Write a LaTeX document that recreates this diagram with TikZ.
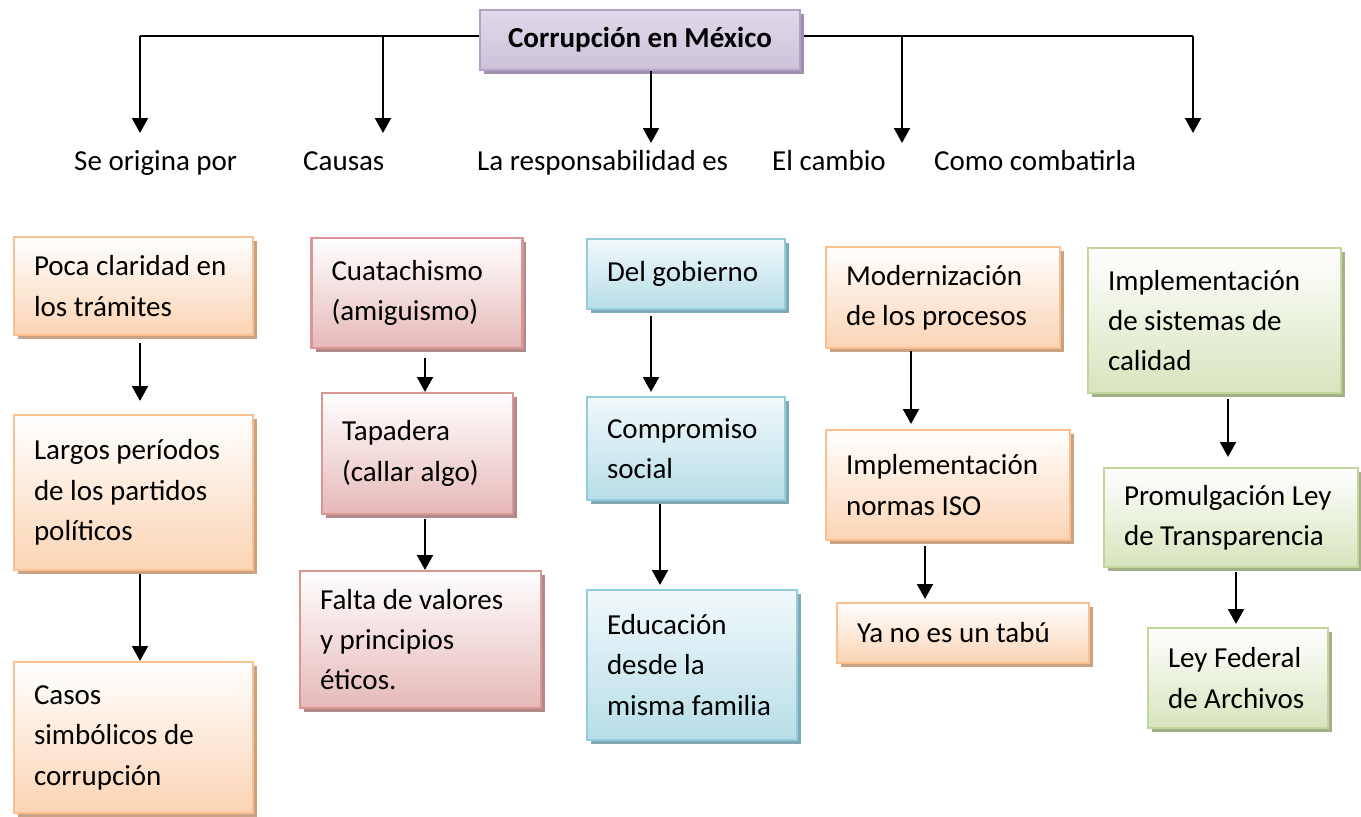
\documentclass[tikz,border=0pt]{standalone}
\usepackage{fontspec}
\setmainfont{Carlito}
\usetikzlibrary{positioning}
\usetikzlibrary{calc}
\usetikzlibrary{arrows.meta}
\usetikzlibrary{shadows}

\definecolor{naranja}{HTML}{FBD4B4}
\definecolor{naranjaborde}{HTML}{FAC090}
\definecolor{naranjasombra}{HTML}{C9A283}
\definecolor{rojo}{HTML}{E6B9B8}
\definecolor{rojoborde}{HTML}{D99694}
\definecolor{rojosombra}{HTML}{B08A8A}
\definecolor{azul}{HTML}{B7DEE8}
\definecolor{azulborde}{HTML}{93CDDD}
\definecolor{azulsombra}{HTML}{7FA9B5}
\definecolor{verde}{HTML}{D7E4BD}
\definecolor{verdeborde}{HTML}{C3D69B}
\definecolor{verdesombra}{HTML}{A3B08A}
\definecolor{morado}{HTML}{CCC1DA}
\definecolor{moradoborde}{HTML}{B3A2C7}
\definecolor{moradosombra}{HTML}{9D8FAD}

\begin{document}
\begin{tikzpicture}[x=0.02cm, y=-0.02cm,
        every node/.style={font=\fontsize{16.5}{23}\selectfont},
        caja/.style 2 args={draw, line width=1.2pt, align=flush left, text width=#1,
            minimum height=#2, inner xsep=0.4cm, inner ysep=0pt},
        naranjo/.style={draw=naranjaborde, top color=white, bottom color=naranja,
            drop shadow={shadow xshift=0.08cm, shadow yshift=-0.08cm, fill=naranjasombra, opacity=1}},
        rojizo/.style={draw=rojoborde, top color=white, bottom color=rojo,
            drop shadow={shadow xshift=0.08cm, shadow yshift=-0.08cm, fill=rojosombra, opacity=1}},
        azulado/.style={draw=azulborde, top color=white!80!azul, bottom color=azul,
            drop shadow={shadow xshift=0.08cm, shadow yshift=-0.08cm, fill=azulsombra, opacity=1}},
        verdoso/.style={draw=verdeborde, top color=white, bottom color=verde,
            drop shadow={shadow xshift=0.08cm, shadow yshift=-0.08cm, fill=verdesombra, opacity=1}},
        linea/.style={line width=1.4pt},
        flecha/.style={line width=1.4pt, -{Triangle[width=9pt, length=8.5pt]}}]

        \useasboundingbox (0,0) rectangle (1361,816);

        % titulo y ramas
        \coordinate (izq) at (140,36);
        \coordinate (der) at (1193,36);
        \coordinate (c2) at (383,36);
        \coordinate (c4) at (902,36);
        \coordinate (f1) at (140,133);
        \coordinate (f2) at (383,133);
        \coordinate (f3) at (651,143);
        \coordinate (f4) at (902,143);
        \coordinate (f5) at (1193,133);

        \draw[linea] (izq) -- (der);
        \node[draw=moradoborde, line width=1.2pt, top color=morado!60, bottom color=morado,
            drop shadow={shadow xshift=0.08cm, shadow yshift=-0.08cm, fill=moradosombra, opacity=1},
            minimum width=6.4cm, minimum height=1.2cm] (titulo) at (640,40) {\bfseries Corrupción en México};

        \draw[flecha] (izq) -- (f1);
        \draw[flecha] (c2) -- (f2);
        \draw[flecha] (titulo.south -| f3) -- (f3);
        \draw[flecha] (c4) -- (f4);
        \draw[flecha] (der) -- (f5);

        \node[anchor=base west] (l1) at (68,170) {Se origina por};
        \node[anchor=base west] (l2) at (297,170) {Causas};
        \node[anchor=base west] (l3) at (471,170) {La responsabilidad es};
        \node[anchor=base west] (l4) at (766,170) {El cambio};
        \node[anchor=base west] (l5) at (928,170) {Como combatirla};

        % columna 1
        \node[caja={3.98cm}{1.96cm}, naranjo] (b11) at (133.5,286) {Poca claridad en\\los trámites};
        \node[caja={3.98cm}{3.1cm}, naranjo] (b12) at (133.5,492.5) {Largos períodos\\de los partidos\\políticos};
        \node[caja={3.98cm}{3.02cm}, naranjo] (b13) at (133.5,737.5) {Casos\\simbólicos de\\corrupción};

        % columna 2
        \node[caja={3.42cm}{2.2cm}, rojizo] (b21) at (417,293) {Cuatachismo\\(amiguismo)};
        \node[caja={3.02cm}{2.42cm}, rojizo] (b22) at (417.5,453.5) {Tapadera\\(callar algo)};
        \node[caja={4.02cm}{2.74cm}, rojizo] (b23) at (420.5,639.5) {Falta de valores\\y principios\\éticos.};

        % columna 3
        \node[caja={3.16cm}{1.4cm}, azulado] (b31) at (686,274) {Del gobierno};
        \node[caja={3.16cm}{2.06cm}, azulado] (b32) at (686,448.5) {Compromiso\\social};
        \node[caja={3.4cm}{3.0cm}, azulado] (b33) at (692,665) {Educación\\desde la\\misma familia};

        % columna 4
        \node[caja={3.88cm}{2.02cm}, naranjo] (b41) at (943,297.5) {Modernización\\de los procesos};
        \node[caja={4.08cm}{2.2cm}, naranjo] (b42) at (948,485) {Implementación\\normas ISO};
        \node[caja={4.24cm}{1.2cm}, naranjo] (b43) at (963,633) {Ya no es un tabú};

        % columna 5
        \node[caja={4.26cm}{2.9cm}, verdoso] (b51) at (1214.5,320.5) {Implementación\\de sistemas de\\calidad};
        \node[caja={4.28cm}{1.98cm}, verdoso] (b52) at (1231,517.5) {Promulgación Ley\\de Transparencia};
        \node[caja={2.8cm}{2.0cm}, verdoso] (b53) at (1238,678) {Ley Federal\\de Archivos};

        % flechas entre cajas
        \draw[flecha, shorten <=0.14cm, shorten >=0.26cm] (b11.south -| 140,0) -- (b12.north -| 140,0);
        \draw[flecha, shorten <=0.06cm] (b12.south -| 140,0) -- (b13.north -| 140,0);
        \draw[flecha, shorten <=0.18cm] (b21.south -| 425,0) -- (b22.north -| 425,0);
        \draw[flecha, shorten <=0.08cm] (b22.south -| 425,0) -- (b23.north -| 425,0);
        \draw[flecha, shorten <=0.12cm, shorten >=0.08cm] (b31.south -| 651,0) -- (b32.north -| 651,0);
        \draw[flecha, shorten <=0.06cm, shorten >=0.08cm] (b32.south -| 660,0) -- (b33.north -| 660,0);
        \draw[flecha, shorten <=0.04cm, shorten >=0.1cm] (b41.south -| 911,0) -- (b42.north -| 911,0);
        \draw[flecha, shorten <=0.1cm, shorten >=0.06cm] (b42.south -| 925,0) -- (b43.north -| 925,0);
        \draw[flecha, shorten <=0.1cm, shorten >=0.2cm] (b51.south -| 1228,0) -- (b52.north -| 1228,0);
        \draw[flecha, shorten <=0.08cm, shorten >=0.06cm] (b52.south -| 1236,0) -- (b53.north -| 1236,0);
\end{tikzpicture}
\end{document}
